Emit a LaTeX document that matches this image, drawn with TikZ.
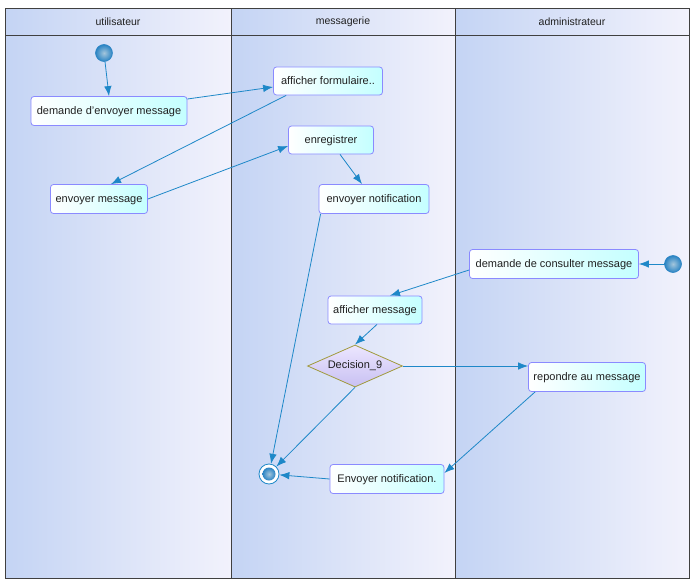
\documentclass[tikz,border=0pt]{standalone}
\usepackage{fontspec}
\setmainfont{Liberation Sans}
\usetikzlibrary{arrows.meta,shapes.geometric}
\definecolor{lanea}{HTML}{C4D4F4}
\definecolor{laneb}{HTML}{F2F2FC}
\definecolor{frame}{HTML}{404040}
\definecolor{boxborder}{HTML}{8A8AFF}
\definecolor{boxcyan}{HTML}{C4FFFF}
\definecolor{arrowc}{HTML}{1E88C8}
\definecolor{ballin}{HTML}{A4C6DC}
\definecolor{ballout}{HTML}{2A84C4}
\definecolor{decborder}{HTML}{A09A3C}
\definecolor{deca}{HTML}{ECE6FF}
\definecolor{decb}{HTML}{C8C0F2}
\definecolor{txt}{HTML}{202020}
\begin{document}
\begin{tikzpicture}[x=1pt,y=-1pt,
  act/.style={draw=boxborder, line width=0.8pt, rounded corners=3pt,
    left color=white, right color=boxcyan, text=txt,
    font=\fontsize{11}{13}\selectfont, inner sep=0pt, text height=8pt, text depth=1pt},
  flow/.style={draw=arrowc, line width=0.8pt, -{Latex[length=10pt,width=7.5pt]}},
  lane/.style={left color=lanea, right color=laneb, draw=frame, line width=1pt},
  lanehead/.style={text=txt, font=\fontsize{10.5}{12}\selectfont},
  ballfill/.style={inner color=ballin, outer color=ballout},
  startnode/.style={circle, inner sep=0pt, minimum size=17pt, ballfill, draw=ballout, line width=0.6pt},
]
\useasboundingbox (0,0) rectangle (699,586);
\fill[white] (0,0) rectangle (699,586);
% lanes
\shade[lane] (5,36) rectangle (231,578);
\shade[lane] (231,36) rectangle (455,578);
\shade[lane] (455,36) rectangle (689,578);
\shade[lane] (5,9) rectangle (231,36);
\shade[lane] (231,9) rectangle (455,36);
\shade[lane] (455,9) rectangle (689,36);
\node[lanehead] (h1) at (118,22) {utilisateur};
\node[lanehead] (h2) at (343,22) {messagerie};
\node[lanehead] (h3) at (572,22) {administrateur};
% nodes
\node[startnode] (s1) at (104,53) {};
\node[act, minimum width=156pt, minimum height=29pt] (a1) at (109,111) {demande d'envoyer message};
\node[act, minimum width=109pt, minimum height=28pt] (f) at (328,81) {afficher formulaire..};
\node[act, minimum width=85pt, minimum height=28pt] (e) at (331,140) {enregistrer};
\node[act, minimum width=97pt, minimum height=29pt] (m) at (99,199) {envoyer message};
\node[act, minimum width=110pt, minimum height=29pt] (n) at (374,199) {envoyer notification};
\node[act, minimum width=169pt, minimum height=29pt] (dc) at (554,264) {demande de consulter message};
\node[startnode] (s2) at (673,264) {};
\node[act, minimum width=94pt, minimum height=28pt] (am) at (375,310) {afficher message};
\node[diamond, aspect=2.26, minimum width=95pt, minimum height=42pt, inner sep=0pt,
  draw=decborder, line width=0.8pt, top color=deca, bottom color=decb, text=txt,
  font=\fontsize{11}{13}\selectfont] (d) at (355,366) {Decision\_9};
\node[act, minimum width=117pt, minimum height=29pt] (r) at (587,377) {repondre au message};
\node[act, minimum width=114pt, minimum height=29pt] (en) at (387,479) {Envoyer notification.};
\node[circle, minimum size=20pt, inner sep=0pt, draw=arrowc, fill=white, line width=0.8pt] (end) at (269,474) {};
\node[circle, minimum size=13pt, inner sep=0pt, ballfill] (endin) at (end) {};
% flows
\draw[flow] (s1) -- (a1.north);
\draw[flow] ([yshift=12pt]a1.east) -- ([yshift=-6pt]f.west);
\draw[flow] ([xshift=13pt]f.south west) -- ([xshift=12pt]m.north);
\draw[flow] (m.east) -- ([yshift=-6pt]e.west);
\draw[flow] ([xshift=9pt]e.south) -- ([xshift=-12pt]n.north);
\draw[flow] ([xshift=2pt]n.south west) -- (end);
\draw[flow] (s2) -- (dc.east);
\draw[flow] ([yshift=-6pt]dc.west) -- ([xshift=15pt]am.north);
\draw[flow] ([xshift=2pt]am.south) -- (d.north);
\draw[flow] (d.east) -- ([yshift=11pt]r.west);
\draw[flow] (d.south) -- (end);
\draw[flow] ([xshift=7pt]r.south west) -- ([yshift=6pt]en.east);
\draw[flow] (en.west) -- (end);
\end{tikzpicture}
\end{document}
